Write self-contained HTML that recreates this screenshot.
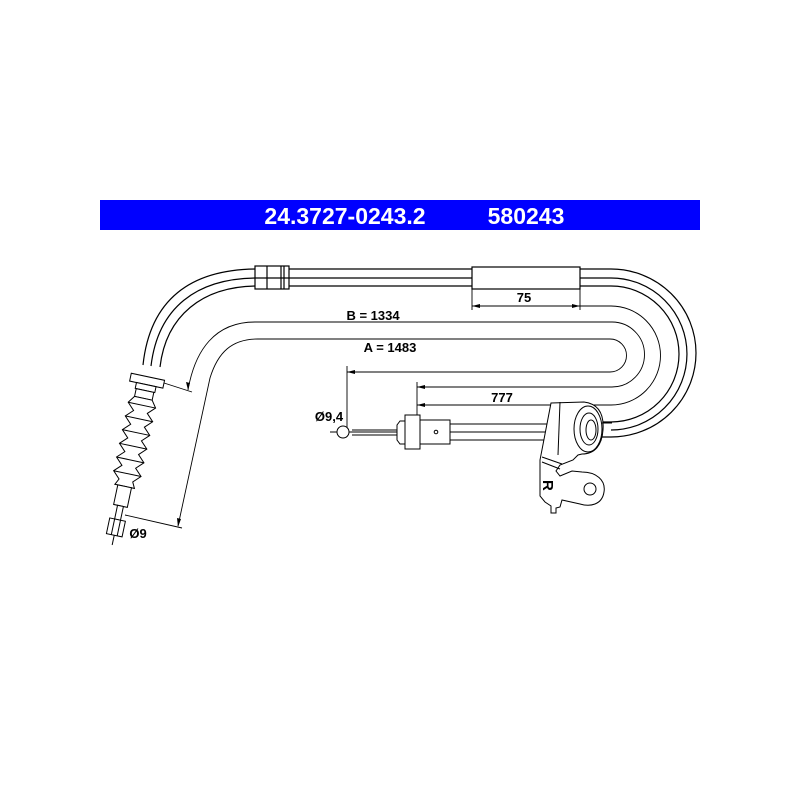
<!DOCTYPE html>
<html><head><style>
html,body{margin:0;padding:0;background:#fff;}
svg{display:block;}
text{font-family:"Liberation Sans",Arial,sans-serif;font-weight:bold;}
</style></head><body>
<svg width="800" height="800" viewBox="0 0 800 800" xmlns="http://www.w3.org/2000/svg">
<rect x="0" y="0" width="800" height="800" fill="#fff"/>
<rect x="100" y="200" width="600" height="30" fill="#0000ff"/>
<text x="345" y="224" font-size="23" fill="#fff" text-anchor="middle">24.3727-0243.2</text>
<text x="526" y="224" font-size="23" fill="#fff" text-anchor="middle">580243</text>

<g fill="none" stroke="#000" stroke-width="1.2">
<path d="M143,365 C150,300 190,269 258,269 L611,269 A85,84 0 0 1 611,437 L597,437"/>
<path d="M151,366 C158,308 196,278 258,278 L611,278 A76,76 0 0 1 611,430"/>
<path d="M160,367 C166,316 202,286 258,286 L611,286 A68,68 0 0 1 611,422 L600,422"/>
<rect x="255" y="266" width="34" height="23" fill="#fff"/>
<line x1="267" y1="266" x2="267" y2="289"/>
<line x1="281" y1="266" x2="281" y2="289"/>
<line x1="284" y1="266" x2="284" y2="289"/>
<line x1="255" y1="278" x2="289" y2="278"/>
<rect x="472" y="267" width="108" height="22" fill="#fff"/>
</g>

<g fill="none" stroke="#000" stroke-width="0.9">
<line x1="472" y1="289" x2="472" y2="310"/>
<line x1="580" y1="289" x2="580" y2="310"/>
<path d="M472,306 L611,306 A49.5,49.5 0 0 1 611,405 L417,405"/>
<path d="M188,390 C195,350 215,322 255,322 L612,322 A32.5,32.5 0 0 1 612,387 L417,387"/>
<path d="M178,526 L210,378 C218,352 232,339 258,339 L610,339 A16.5,16.5 0 0 1 610,372 L347,372"/>
<line x1="347" y1="366" x2="347" y2="432"/>
<line x1="417" y1="382" x2="417" y2="418"/>
<line x1="164" y1="383" x2="192" y2="392"/>
<line x1="125" y1="515" x2="182" y2="528"/>
</g>
<g fill="#000">
<path d="M188,390 l-2,-8 l4,1 z"/>
<path d="M178,527 l-1,-9 l4,1 z"/>
<path d="M347,372 l8,-2 l0,4 z"/>
<path d="M417,387 l8,-2 l0,4 z"/>
<path d="M417,405 l8,-2 l0,4 z"/>
<path d="M472,306 l8,-2 l0,4 z"/>
<path d="M580,306 l-8,-2 l0,4 z"/>
</g>
<text x="524" y="302" font-size="13" text-anchor="middle">75</text>
<text x="373" y="320" font-size="13" text-anchor="middle">B = 1334</text>
<text x="390" y="352" font-size="13" text-anchor="middle">A = 1483</text>
<text x="502" y="402" font-size="13" text-anchor="middle">777</text>
<text x="329" y="421" font-size="13" text-anchor="middle">Ø9,4</text>
<text x="138" y="538" font-size="13" text-anchor="middle">Ø9</text>

<g fill="#fff" stroke="#000" stroke-width="1">
<line x1="330" y1="432" x2="560" y2="432"/>
<line x1="352" y1="430" x2="397" y2="430"/>
<line x1="352" y1="435" x2="397" y2="435"/>
<circle cx="343" cy="432" r="6"/>
<path d="M400,421 L397,425 L397,440 L400,444 L405,444 L405,421 Z"/>
<rect x="405" y="415" width="15" height="34"/>
<rect x="420" y="420" width="30" height="24"/>
<circle cx="436" cy="432" r="1.8"/>
<line x1="450" y1="424" x2="560" y2="424" fill="none"/>
<line x1="450" y1="440" x2="560" y2="440" fill="none"/>
<path d="M551,403 L584,402 C600,404 604,416 603,430 C602,445 595,454 582,454 L578,455 L573,460 L560,465 L556,471 L560,476 L572,471 L582,472 C596,472 606,480 604,492 C602,505 590,507 580,504 L562,500 L560,507 L556,508 L556,513 L551,513 L551,506 L545,502 L540,496 L540,460 Z"/>
<line x1="560" y1="402" x2="558" y2="455" fill="none"/>
<line x1="542" y1="457" x2="562" y2="464" fill="none"/>
<line x1="542" y1="462" x2="560" y2="469" fill="none"/>
<ellipse cx="588" cy="429" rx="14" ry="23"/>
<ellipse cx="589" cy="429" rx="9" ry="16"/>
<ellipse cx="591" cy="430" rx="5" ry="10"/>
<circle cx="590" cy="489" r="6"/>
<line x1="602" y1="423" x2="612" y2="423" fill="none"/>
<line x1="602" y1="437" x2="612" y2="437" fill="none"/>
</g>
<text x="0" y="0" font-size="15" transform="translate(543,480) rotate(90)">R</text>

<g transform="translate(150,367) rotate(12)" fill="#fff" stroke="#000" stroke-width="1">
<rect x="-17" y="10" width="34" height="8"/>
<rect x="-10" y="18" width="20" height="6"/>
<rect x="-9" y="24" width="18" height="8"/>
<path d="M-9,32 L-14,39 L-7,46 L-14,53 L-7,60 L-14,67 L-7,74 L-14,81 L-7,88 L-14,95 L-7,102 L-14,109 L-7,116 L-10,122 L10,122 L7,116 L14,109 L7,102 L14,95 L7,88 L14,81 L7,74 L14,67 L7,60 L14,53 L7,46 L14,39 L9,32 Z"/>
<path d="M-14,39 L14,39 M-14,53 L14,53 M-14,67 L14,67 M-14,81 L14,81 M-14,95 L14,95 M-14,109 L14,109" fill="none"/>
<rect x="-7" y="122" width="14" height="20"/>
<rect x="-3" y="142" width="6" height="14"/>
<rect x="-8" y="156" width="16" height="16"/>
<line x1="-3" y1="156" x2="-3" y2="172"/>
<line x1="3" y1="156" x2="3" y2="172"/>
<line x1="0" y1="172" x2="0" y2="182"/>
</g>
</svg>
</body></html>
